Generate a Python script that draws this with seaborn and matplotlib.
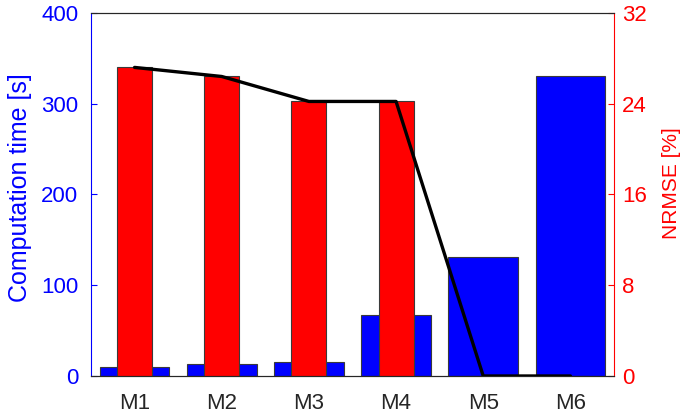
import numpy as np
import pandas as pd
import matplotlib
matplotlib.use('Agg')
import matplotlib.pyplot as plt
import seaborn as sns

# values
models = ['M1', 'M2', 'M3', 'M4', 'M5', 'M6']
comp_time = [10, 13, 15, 67, 131, 330]          # Computation time [s]
nrmse = [27.2, 26.4, 24.2, 24.2, 0.0, 0.0]      # NRMSE [%]

sns.set_style('white')
plt.rcParams['font.family'] = ['Liberation Sans', 'DejaVu Sans']

blue = '#0000FF'
red = '#FF0000'
edge = '#3a3a3a'

fig = plt.figure(figsize=(6.81, 4.18), dpi=100)
ax = fig.add_axes([0.1336, 0.1005, 0.768, 0.8685])
ax2 = ax.twinx()

df = pd.DataFrame({'model': models, 'time': comp_time, 'nrmse': nrmse})

sns.barplot(data=df, x='model', y='time', color=blue, saturation=1, width=0.8,
            edgecolor=edge, linewidth=0.8, ax=ax)
sns.barplot(data=df, x='model', y='nrmse', color=red, saturation=1, width=0.4,
            edgecolor=edge, linewidth=0.8, ax=ax2)
sns.lineplot(x=np.arange(len(models)), y=nrmse, color='black', linewidth=2.4,
             ax=ax2)

ax.set_xlim(-0.5, len(models) - 0.5)
ax.set_ylim(0, 400)
ax2.set_ylim(0, 32)
ax.set_yticks([0, 100, 200, 300, 400])
ax2.set_yticks([0, 8, 16, 24, 32])

ax.set_xlabel('')
ax.set_ylabel('Computation time [s]', color=blue, fontsize=18, labelpad=7)
ax2.set_ylabel('NRMSE [%]', color=red, fontsize=15, labelpad=11)
ax.yaxis.label.set_y(0.52)
ax2.yaxis.label.set_y(0.53)

ax.tick_params(axis='y', colors=blue, labelsize=16, direction='in', length=4,
               width=0.8, left=True, pad=9)
ax2.tick_params(axis='y', colors=red, labelsize=16, direction='in', length=4,
                width=0.8, right=True, pad=6)
ax.tick_params(axis='x', colors='#262626', labelsize=16, direction='in',
               length=4, width=0.8, bottom=True, pad=12)
ax2.tick_params(axis='x', bottom=False, top=False)

for a in (ax, ax2):
    for s in a.spines.values():
        s.set_linewidth(0.8)
        s.set_color('#262626')
ax.spines['left'].set_color(blue)
ax2.spines['left'].set_visible(False)
ax2.spines['right'].set_color(red)
ax.spines['right'].set_visible(False)

fig.savefig('out.png', dpi=100)
